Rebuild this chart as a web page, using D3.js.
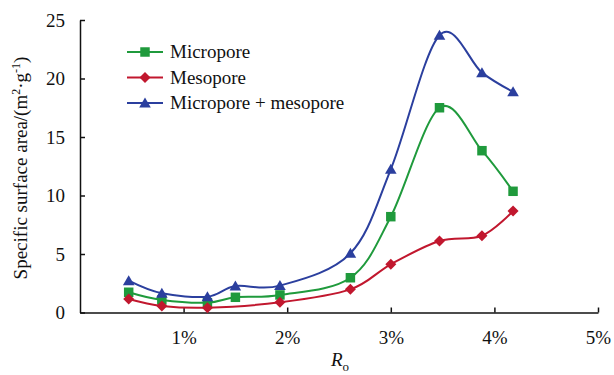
<!DOCTYPE html>
<html>
<head>
<meta charset="utf-8">
<script src="https://cdn.jsdelivr.net/npm/d3@7"></script>
<style>
  body { margin: 0; background: #fff; }
  text { font-family: "Times New Roman", "Liberation Serif", serif; fill: #111; }
</style>
</head>
<body>
<script>

// Ro (%) for each sample
var roMicro = [0.47, 0.79, 1.23, 1.50, 1.93, 2.61, 3.00, 3.47, 3.88, 4.18];
var roMeso = [0.47, 0.79, 1.23, 1.93, 2.61, 3.00, 3.47, 3.88, 4.18];

// specific surface area, m2/g
var micropore = [1.73, 1.07, 0.84, 1.30, 1.50, 2.97, 8.19, 17.5, 13.83, 10.36];
var mesopore = [1.15, 0.56, 0.41, 0.87, 1.98, 4.12, 6.11, 6.56, 8.67];
var total = [2.72, 1.64, 1.35, 2.26, 2.30, 5.06, 12.24, 23.7, 20.5, 18.87];

var xTicks = [1, 2, 3, 4, 5];
var yTicks = [0, 5, 10, 15, 20, 25];

var w = 614, h = 375;
var margin = {top: 20, right: 16, bottom: 62.5, left: 80};

var svg = d3.select("body").append("svg")
  .attr("width", w)
  .attr("height", h);

var x_scale = d3.scaleLinear()
  .domain([0, 5])
  .range([margin.left, w - margin.right]);

var y_scale = d3.scaleLinear()
  .domain([0, 25])
  .range([h - margin.bottom, margin.top]);

// axes, ticks point inward
var xAxis = d3.axisBottom(x_scale)
  .tickValues(xTicks)
  .tickSizeInner(-5)
  .tickSizeOuter(0)
  .tickPadding(18)
  .tickFormat(function(d) { return d + "%"; });

var yAxis = d3.axisLeft(y_scale)
  .tickValues(yTicks)
  .tickSizeInner(-5)
  .tickSizeOuter(0)
  .tickPadding(15);

var gX = svg.append("g")
  .attr("transform", "translate(0," + y_scale(0) + ")")
  .call(xAxis);

var gY = svg.append("g")
  .attr("transform", "translate(" + margin.left + ",0)")
  .call(yAxis);

[gX, gY].forEach(function(g) {
  g.select(".domain").attr("stroke", "#111").attr("stroke-width", 1.5);
  g.selectAll(".tick line").attr("stroke", "#111").attr("stroke-width", 1.5);
  g.selectAll(".tick text")
    .attr("font-size", 19)
    .attr("fill", "#111");
});

// series
var series = [
  {name: "Micropore", ro: roMicro, vals: micropore, color: "#1f9a3c", marker: "square"},
  {name: "Mesopore", ro: roMeso, vals: mesopore, color: "#c1172e", marker: "diamond"},
  {name: "Micropore + mesopore", ro: roMicro, vals: total, color: "#2b3f9e", marker: "triangle"}
];

// excel-like smoothing
var line = d3.line()
  .x(function(d) { return x_scale(d[0]); })
  .y(function(d) { return y_scale(d[1]); })
  .curve(d3.curveCardinal.tension(0));

function markerPath(type) {
  if (type == "square") return d3.symbol(d3.symbolSquare, 90)();
  if (type == "diamond") return "M0,-5.5L5.5,0L0,5.5L-5.5,0Z";
  return "M0,-5.5L5.8,4.5L-5.8,4.5Z";
}

series.forEach(function(s) {
  var pts = s.ro.map(function(r, i) { return [r, s.vals[i]]; });

  svg.append("path")
    .datum(pts)
    .attr("d", line)
    .attr("fill", "none")
    .attr("stroke", s.color)
    .attr("stroke-width", 2);

  svg.selectAll(null)
    .data(pts)
    .enter()
    .append("path")
    .attr("d", markerPath(s.marker))
    .attr("transform", function(d) {
      return "translate(" + x_scale(d[0]) + "," + y_scale(d[1]) + ")";
    })
    .attr("fill", s.color);
});

// legend
var legend = svg.append("g").attr("transform", "translate(127,52)");
series.forEach(function(s, i) {
  var g = legend.append("g").attr("transform", "translate(0," + (i * 25.5) + ")");
  g.append("line")
    .attr("x1", 0).attr("x2", 36)
    .attr("stroke", s.color).attr("stroke-width", 2);
  g.append("path")
    .attr("d", markerPath(s.marker))
    .attr("transform", "translate(18,0)")
    .attr("fill", s.color);
  g.append("text")
    .attr("x", 43)
    .attr("dy", "0.33em")
    .attr("font-size", 19)
    .text(s.name);
});

// y-axis title
var yt = svg.append("text")
  .attr("transform", "translate(27,168) rotate(-90)")
  .attr("text-anchor", "middle")
  .attr("font-size", 19);
yt.append("tspan").text("Specific surface area/(m");
yt.append("tspan").attr("dy", -7).attr("font-size", 12).text("2");
yt.append("tspan").attr("dy", 7).text("\u00b7g");
yt.append("tspan").attr("dy", -7).attr("font-size", 12).text("-1");
yt.append("tspan").attr("dy", 7).text(")");

// x-axis title
var xt = svg.append("text")
  .attr("x", 340)
  .attr("y", 366)
  .attr("text-anchor", "middle")
  .attr("font-size", 19);
xt.append("tspan").attr("font-style", "italic").text("R");
xt.append("tspan").attr("dy", 5).attr("font-size", 13).text("o");

</script>
</body>
</html>
